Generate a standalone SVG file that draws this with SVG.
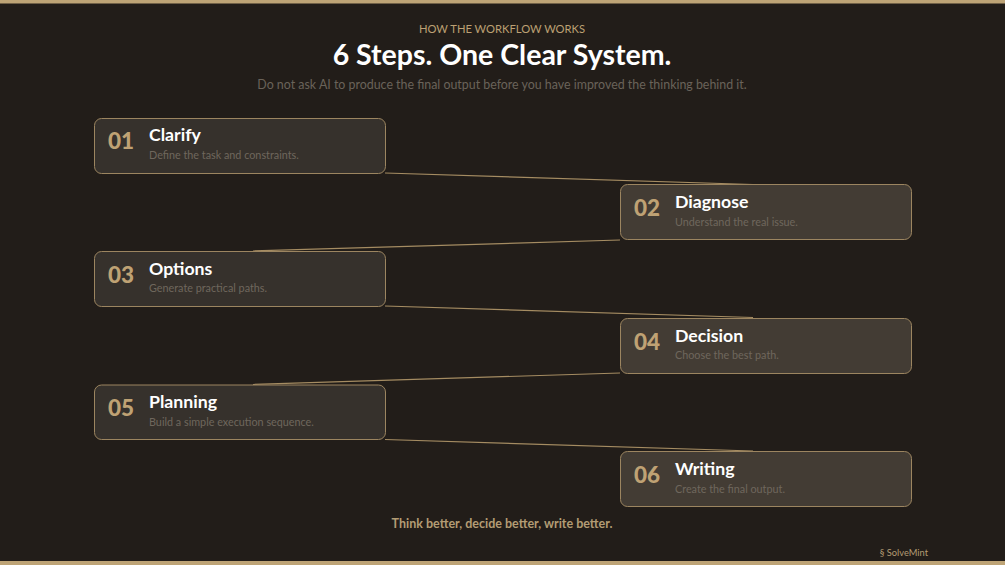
<svg xmlns="http://www.w3.org/2000/svg" width="1005" height="565" viewBox="0 0 1005 565">
<style>
text{font-family:Lato,"Open Sans","Liberation Sans",sans-serif}
.card{stroke:#9c8560;stroke-width:1}
.l{fill:#36312c}
.r{fill:#433c34}
.num{font-size:22.5px;font-weight:900;fill:#bfa274}
.ttl{font-size:17.7px;font-weight:bold;fill:#ffffff}
.sub{font-size:10.8px;fill:#6f675d}
.conn line{stroke:#a58c62;stroke-width:1.2}
</style>
<rect width="1005" height="565" fill="#221d19"/>
<rect x="0" y="0" width="1005" height="3.5" fill="#bea476"/>
<rect x="0" y="561" width="1005" height="4" fill="#bea476"/>
<text x="502" y="33" text-anchor="middle" font-size="11.2" fill="#bca073">HOW THE WORKFLOW WORKS</text>
<text x="502" y="65" text-anchor="middle" font-size="28.5" font-weight="bold" fill="#ffffff">6 Steps. One Clear System.</text>
<text x="502" y="89" text-anchor="middle" font-size="12.4" fill="#6a635a">Do not ask AI to produce the final output before you have improved the thinking behind it.</text>
<g class="conn">
<line x1="385" y1="173" x2="753" y2="184.5"/>
<line x1="620" y1="240" x2="253" y2="251"/>
<line x1="385" y1="306" x2="753" y2="317.5"/>
<line x1="620" y1="373" x2="253" y2="384.5"/>
<line x1="385" y1="439.5" x2="753" y2="451"/>
</g>
<g id="step01">
<rect class="card l" x="94.5" y="118.5" width="291" height="55" rx="7"/>
<text class="num" x="108" y="149">01</text>
<text class="ttl" x="149" y="141">Clarify</text>
<text class="sub" x="149" y="159">Define the task and constraints.</text>
</g>
<g id="step02">
<rect class="card r" x="620.5" y="184.5" width="291" height="55" rx="7"/>
<text class="num" x="634" y="216">02</text>
<text class="ttl" x="675" y="208">Diagnose</text>
<text class="sub" x="675" y="226">Understand the real issue.</text>
</g>
<g id="step03">
<rect class="card l" x="94.5" y="251.5" width="291" height="55" rx="7"/>
<text class="num" x="108" y="283">03</text>
<text class="ttl" x="149" y="275">Options</text>
<text class="sub" x="149" y="292">Generate practical paths.</text>
</g>
<g id="step04">
<rect class="card r" x="620.5" y="318.5" width="291" height="55" rx="7"/>
<text class="num" x="634" y="350">04</text>
<text class="ttl" x="675" y="342">Decision</text>
<text class="sub" x="675" y="359">Choose the best path.</text>
</g>
<g id="step05">
<rect class="card l" x="94.5" y="385" width="291" height="54.5" rx="7"/>
<text class="num" x="108" y="416">05</text>
<text class="ttl" x="149" y="408">Planning</text>
<text class="sub" x="149" y="426">Build a simple execution sequence.</text>
</g>
<g id="step06">
<rect class="card r" x="620.5" y="451.5" width="291" height="55" rx="7"/>
<text class="num" x="634" y="483">06</text>
<text class="ttl" x="675" y="475">Writing</text>
<text class="sub" x="675" y="493">Create the final output.</text>
</g>
<text x="502" y="528" text-anchor="middle" font-size="12.5" font-weight="bold" fill="#b39c74">Think better, decide better, write better.</text>
<text x="928" y="556" text-anchor="end" font-size="9.3" fill="#b39c74">§ SolveMint</text>
</svg>
